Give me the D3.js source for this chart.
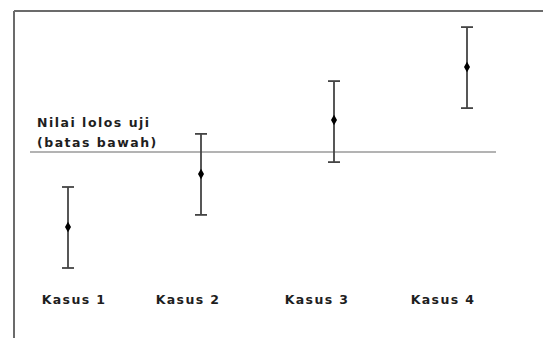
<!DOCTYPE html>
<html>
<head>
<meta charset="utf-8">
<script src="https://d3js.org/d3.v7.min.js"></script>
<style>
  html, body { margin: 0; padding: 0; background: #fff; }
  svg { display: block; }
</style>
</head>
<body>
<svg id="chart" width="543" height="338"></svg>
<script>
// Cases and their measured value with lower/upper bounds
const categories = ["Kasus 1", "Kasus 2", "Kasus 3", "Kasus 4"];
const means  = [2.77, 4.53, 6.33, 8.10];
const lowers = [1.40, 3.17, 4.93, 6.73];
const uppers = [4.10, 5.87, 7.63, 9.43];
const threshold = 5.27;
const thresholdLabel = ["Nilai lolos uji", "(batas bawah)"];

const svg = d3.select("#chart");
const W = 543, H = 338;

const y = d3.scaleLinear().domain([0, 10]).range([310, 10]);
const x = d3.scalePoint().domain(categories).range([68, 467]);
// Case labels sit in their own row, not centred under each bar
const xLabel = d3.scaleOrdinal().domain(categories).range([74, 188, 317, 443]);

// Frame: top and left edges
svg.append("line")
  .attr("x1", 14).attr("x2", W).attr("y1", 11).attr("y2", 11)
  .attr("stroke", "#6b6b6b").attr("stroke-width", 2);
svg.append("line")
  .attr("x1", 14).attr("x2", 14).attr("y1", 11).attr("y2", H)
  .attr("stroke", "#6b6b6b").attr("stroke-width", 2);

// Pass threshold line
svg.append("line")
  .attr("x1", 30).attr("x2", 496)
  .attr("y1", y(threshold)).attr("y2", y(threshold))
  .attr("stroke", "#9a9a9a").attr("stroke-width", 1.5);

svg.append("g").selectAll("text")
  .data(thresholdLabel)
  .join("text")
  .attr("x", 37)
  .attr("y", (d, i) => y(threshold) - 25 + i * 20)
  .attr("font-family", "DejaVu Sans, sans-serif")
  .attr("font-weight", "bold")
  .attr("font-size", 12.5)
  .attr("letter-spacing", 1.5)
  .attr("fill", "#1e1e1e")
  .text(d => d);

const rows = categories.map((c, i) => ({ c, m: means[i], lo: lowers[i], hi: uppers[i] }));

const g = svg.append("g").selectAll("g").data(rows).join("g");

g.append("line")
  .attr("x1", d => x(d.c)).attr("x2", d => x(d.c))
  .attr("y1", d => y(d.lo)).attr("y2", d => y(d.hi))
  .attr("stroke", "#444").attr("stroke-width", 1.8);

["lo", "hi"].forEach(k => {
  g.append("line")
    .attr("x1", d => x(d.c) - 6).attr("x2", d => x(d.c) + 6)
    .attr("y1", d => y(d[k])).attr("y2", d => y(d[k]))
    .attr("stroke", "#444").attr("stroke-width", 1.8);
});

g.append("path")
  .attr("transform", d => `translate(${x(d.c)},${y(d.m)})`)
  .attr("d", d3.symbol().type(d3.symbolDiamond).size(32))
  .attr("fill", "#000");

// Case labels
svg.append("g").selectAll("text")
  .data(categories)
  .join("text")
  .attr("x", d => xLabel(d))
  .attr("y", 304)
  .attr("text-anchor", "middle")
  .attr("font-family", "DejaVu Sans, sans-serif")
  .attr("font-weight", "bold")
  .attr("font-size", 12.5)
  .attr("letter-spacing", 1.4)
  .attr("fill", "#1e1e1e")
  .text(d => d);
</script>
</body>
</html>
